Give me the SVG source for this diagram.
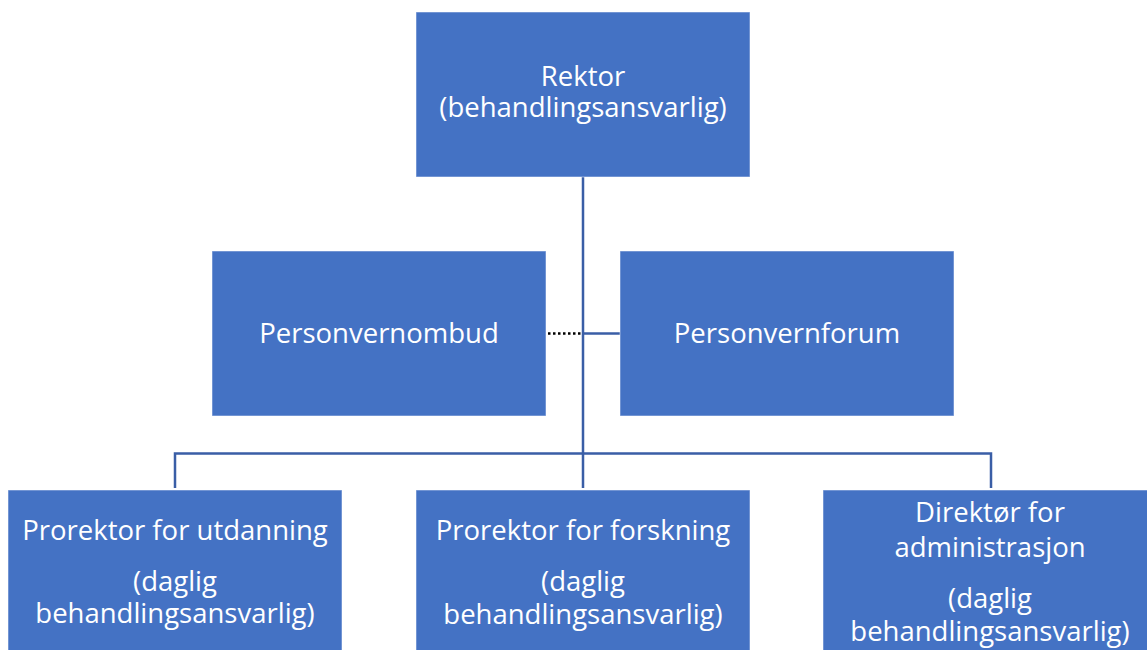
<svg xmlns="http://www.w3.org/2000/svg" width="1147" height="650" viewBox="0 0 1147 650">
<style>
.box{fill:#4472C4;stroke:#FFFFFF;stroke-opacity:0.5;stroke-width:1}
.t{font-family:"Open Sans","Liberation Sans",sans-serif;font-size:27.5px;fill:#FFFFFF;text-anchor:middle}
.ln{stroke:#3A5EA6;stroke-width:2.5;fill:none}
.dot{stroke:#000000;stroke-width:2.5;stroke-dasharray:2.5 2.5;fill:none}
</style>
<rect width="1147" height="650" fill="#FFFFFF"/>
<g id="connectors">
<path class="ln" d="M583 177V488"/>
<path class="ln" d="M583 333.5H620"/>
<path class="dot" d="M548 333.5H582"/>
<path class="ln" d="M175 488V453.5H991V488"/>
</g>
<g id="rektor">
<rect class="box" x="416" y="12" width="334" height="165"/>
<text class="t"><tspan x="583" y="86">Rektor</tspan><tspan x="583" y="117">(behandlingsansvarlig)</tspan></text>
</g>
<g id="personvernombud">
<rect class="box" x="212" y="251" width="334" height="165"/>
<text class="t" x="379" y="343">Personvernombud</text>
</g>
<g id="personvernforum">
<rect class="box" x="620" y="251" width="334" height="165"/>
<text class="t" x="787" y="343">Personvernforum</text>
</g>
<g id="prorektor-utdanning">
<rect class="box" x="8" y="490" width="334" height="170"/>
<text class="t" x="175" y="540">Prorektor for utdanning</text>
<text class="t"><tspan x="175" y="591">(daglig</tspan><tspan x="175" y="623">behandlingsansvarlig)</tspan></text>
</g>
<g id="prorektor-forskning">
<rect class="box" x="416" y="490" width="334" height="170"/>
<text class="t" x="583" y="540">Prorektor for forskning</text>
<text class="t"><tspan x="583" y="591">(daglig</tspan><tspan x="583" y="624">behandlingsansvarlig)</tspan></text>
</g>
<g id="direktor">
<rect class="box" x="823" y="490" width="334" height="170"/>
<text class="t"><tspan x="990" y="522">Direktør for</tspan><tspan x="990" y="557">administrasjon</tspan></text>
<text class="t"><tspan x="990" y="608">(daglig</tspan><tspan x="990" y="641">behandlingsansvarlig)</tspan></text>
</g>
</svg>
